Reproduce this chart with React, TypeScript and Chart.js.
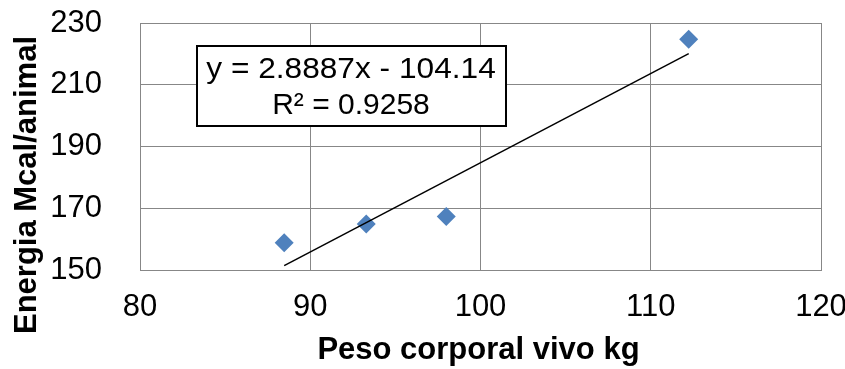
import { useEffect, useRef } from 'react';
import { Chart, registerables } from 'chart.js';

Chart.register(...registerables);

// ---- data ----
const pesoKg = [88.47, 93.29, 97.99, 112.23];
const energiaMcal = [158.8, 164.9, 167.3, 224.7];
const trendSlope = 2.8887;
const trendIntercept = -104.14;
const trendText = ['y = 2.8887x - 104.14', 'R² = 0.9258'];
const xTicks = [80, 90, 100, 110, 120];
const yTicks = [150, 170, 190, 210, 230];
const xTitle = 'Peso corporal vivo kg';
const yTitle = 'Energia Mcal/animal';

const FONT = '"Liberation Sans", Arial, sans-serif';
const GRID = '#878787';
const MARKER = '#4F81BD';

const overlayPlugin = {
  id: 'overlay',
  afterDraw(chart: any) {
    const ctx = chart.ctx as CanvasRenderingContext2D;
    const area = chart.chartArea;
    ctx.save();
    // equation box
    ctx.fillStyle = '#ffffff';
    ctx.fillRect(197, 46, 309, 80);
    ctx.strokeStyle = '#000000';
    ctx.lineWidth = 2;
    ctx.strokeRect(197, 46, 309, 80);
    ctx.fillStyle = '#000000';
    ctx.textAlign = 'center';
    ctx.textBaseline = 'alphabetic';
    ctx.font = `30px ${FONT}`;
    ctx.save();
    ctx.translate(351, 0);
    ctx.scale(1.055, 1);
    ctx.fillText(trendText[0], 0, 78);
    ctx.restore();
    ctx.fillText(trendText[1], 351, 114);
    // x title
    ctx.font = `bold 31px ${FONT}`;
    ctx.fillText(xTitle, (area.left + area.right) / 2 - 2, 359);
    // y title
    ctx.translate(36, 185);
    ctx.rotate(-Math.PI / 2);
    ctx.fillText(yTitle, 0, 0);
    ctx.restore();
  },
};

export default function App() {
  const ref = useRef<HTMLCanvasElement | null>(null);

  useEffect(() => {
    if (!ref.current) return;
    const xmin = Math.min(...pesoKg);
    const xmax = Math.max(...pesoKg);
    const trend = [xmin, xmax].map((x) => ({ x, y: trendSlope * x + trendIntercept }));
    const points = pesoKg.map((x, i) => ({ x, y: energiaMcal[i] }));

    const chart = new Chart(ref.current, {
      type: 'scatter',
      data: {
        datasets: [
          {
            type: 'line',
            label: 'Trend',
            data: trend,
            borderColor: '#000000',
            borderWidth: 1.5,
            pointRadius: 0,
            fill: false,
            order: 0,
          } as any,
          {
            label: 'Energia',
            data: points,
            pointStyle: 'rectRot',
            pointRadius: 9.5,
            pointHoverRadius: 9.5,
            backgroundColor: MARKER,
            borderColor: MARKER,
            borderWidth: 0,
            order: 1,
          },
        ],
      },
      options: {
        responsive: false,
        animation: false,
        devicePixelRatio: 1,
        layout: { padding: { top: 23, right: 24, left: 0, bottom: 0 } },
        plugins: {
          legend: { display: false },
          tooltip: { enabled: false },
        },
        events: [],
        scales: {
          x: {
            type: 'linear',
            min: 80,
            max: 120,
            afterBuildTicks: (s: any) => {
              s.ticks = xTicks.map((v) => ({ value: v }));
            },
            afterFit: (s: any) => {
              s.height = 99;
              s.paddingLeft = 0;
              s.paddingRight = 0;
            },
            grid: { color: GRID, lineWidth: 1, drawTicks: false },
            border: { display: true, color: GRID, width: 1 },
            ticks: {
              color: '#000000',
              padding: 19,
              font: { family: FONT, size: 31 },
              maxRotation: 0,
            },
          },
          y: {
            type: 'linear',
            min: 150,
            max: 230,
            afterBuildTicks: (s: any) => {
              s.ticks = yTicks.map((v) => ({ value: v }));
            },
            afterFit: (s: any) => {
              s.width = 140;
              s.paddingTop = 0;
              s.paddingBottom = 0;
            },
            grid: { color: GRID, lineWidth: 1, drawTicks: false },
            border: { display: true, color: GRID, width: 1 },
            ticks: {
              color: '#000000',
              padding: 38,
              font: { family: FONT, size: 31 },
            },
          },
        },
      },
      plugins: [overlayPlugin],
    });
    return () => chart.destroy();
  }, []);

  return (
    <div style={{ position: 'absolute', left: 0, top: 0, width: 845, height: 369, background: '#fff' }}>
      <canvas ref={ref} width={845} height={369} />
    </div>
  );
}
